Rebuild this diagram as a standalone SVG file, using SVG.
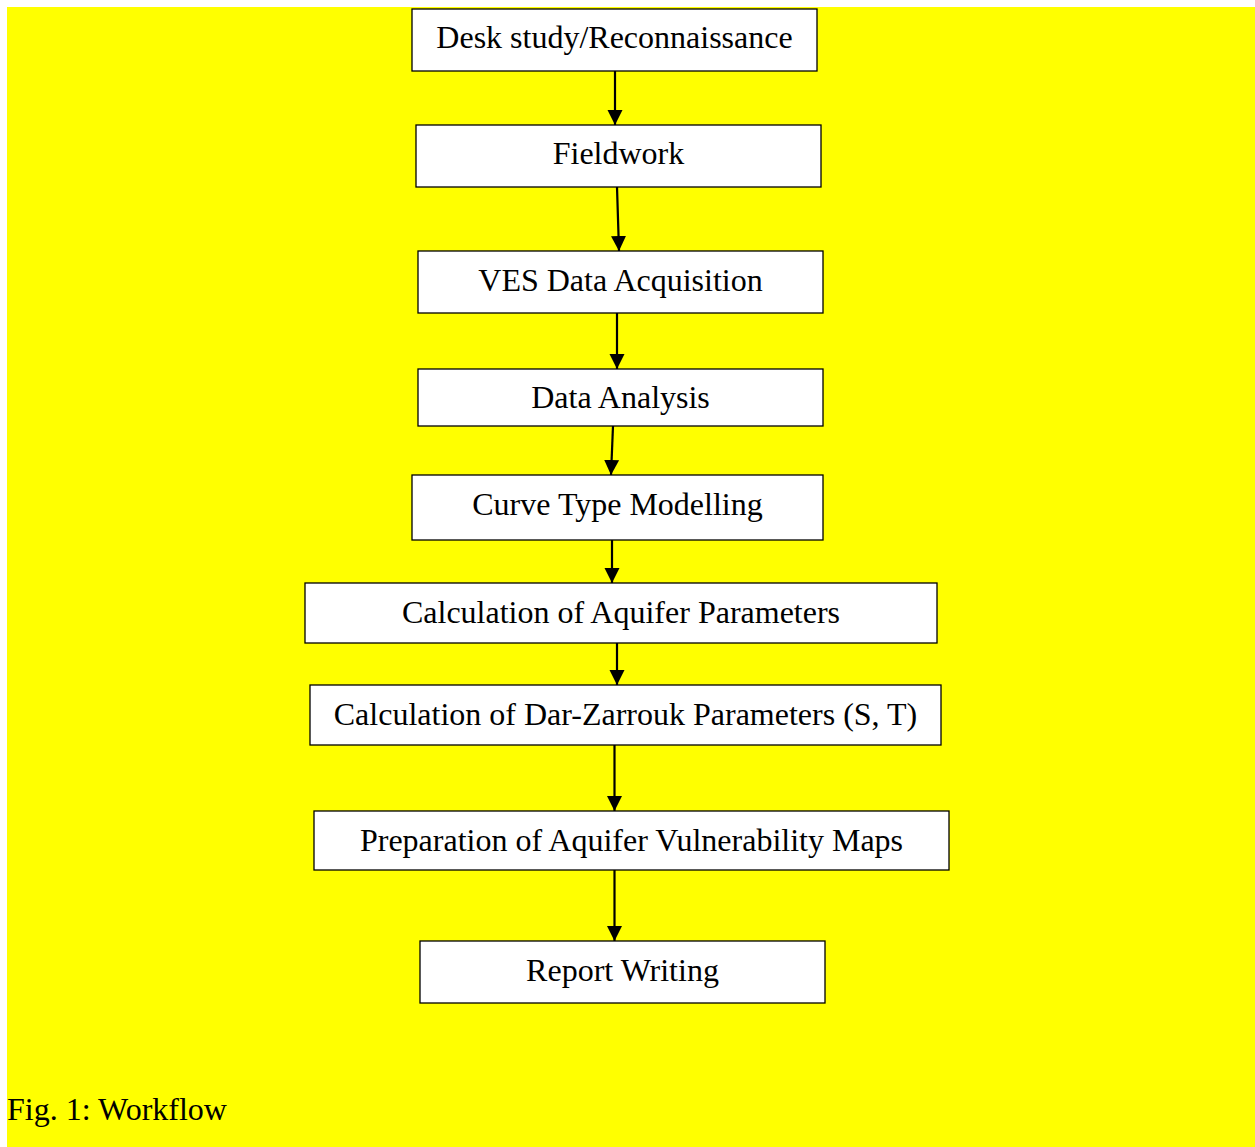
<svg xmlns="http://www.w3.org/2000/svg" width="1255" height="1147" viewBox="0 0 1255 1147">
<defs>
<style>
.box{fill:#ffffff;stroke:#000000;stroke-width:1.3}
.lbl{font-family:"Liberation Serif","Times New Roman",serif;font-size:32px;fill:#000000;text-anchor:middle}
.cap{font-family:"Liberation Serif","Times New Roman",serif;font-size:32px;fill:#000000}
.conn{stroke:#000000;stroke-width:2.2;fill:none;marker-end:url(#ah)}
</style>
<marker id="ah" markerUnits="userSpaceOnUse" markerWidth="16" markerHeight="16" viewBox="0 0 16 16" refX="15" refY="8" orient="auto">
<path d="M0,0.5 L15,8 L0,15.5 Z" fill="#000000"/>
</marker>
</defs>
<rect x="0" y="0" width="1255" height="1147" fill="#ffffff"/>
<rect x="7" y="7" width="1248" height="1140" fill="#ffff00"/>
<g id="connectors">
<line class="conn" x1="615" y1="71" x2="615" y2="125"/>
<line class="conn" x1="617" y1="187" x2="619" y2="251"/>
<line class="conn" x1="617" y1="313" x2="617" y2="369"/>
<line class="conn" x1="613" y1="426" x2="611" y2="475"/>
<line class="conn" x1="612" y1="540" x2="612" y2="583"/>
<line class="conn" x1="617" y1="643" x2="617" y2="685"/>
<line class="conn" x1="614.5" y1="745" x2="614.5" y2="811"/>
<line class="conn" x1="614.5" y1="870" x2="614.5" y2="941"/>
</g>
<g id="n1"><rect class="box" x="412" y="9" width="405" height="62"/><text class="lbl" x="614.5" y="48">Desk study/Reconnaissance</text></g>
<g id="n2"><rect class="box" x="416" y="125" width="405" height="62"/><text class="lbl" x="618.5" y="164">Fieldwork</text></g>
<g id="n3"><rect class="box" x="418" y="251" width="405" height="62"/><text class="lbl" x="620.5" y="291">VES Data Acquisition</text></g>
<g id="n4"><rect class="box" x="418" y="369" width="405" height="57"/><text class="lbl" x="620.5" y="408">Data Analysis</text></g>
<g id="n5"><rect class="box" x="412" y="475" width="411" height="65"/><text class="lbl" x="617.5" y="515">Curve Type Modelling</text></g>
<g id="n6"><rect class="box" x="305" y="583" width="632" height="60"/><text class="lbl" x="621" y="623">Calculation of Aquifer Parameters</text></g>
<g id="n7"><rect class="box" x="310" y="685" width="631" height="60"/><text class="lbl" x="625.5" y="725">Calculation of Dar-Zarrouk Parameters (S, T)</text></g>
<g id="n8"><rect class="box" x="314" y="811" width="635" height="59"/><text class="lbl" x="631.5" y="851">Preparation of Aquifer Vulnerability Maps</text></g>
<g id="n9"><rect class="box" x="420" y="941" width="405" height="62"/><text class="lbl" x="622.5" y="981">Report Writing</text></g>
<text class="cap" x="7" y="1120">Fig. 1: Workflow</text>
</svg>
